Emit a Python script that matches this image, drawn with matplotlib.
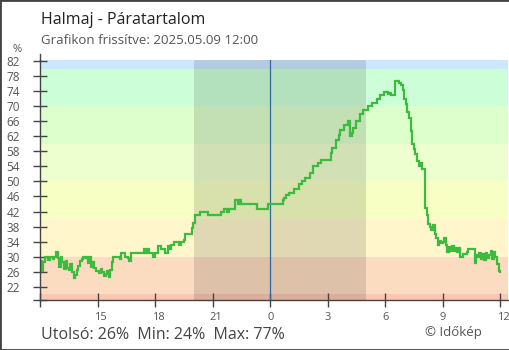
import numpy as np
import matplotlib
matplotlib.use("Agg")
import matplotlib.pyplot as plt
from matplotlib.patches import Rectangle
import matplotlib.transforms as mtransforms

plt.rcParams['font.family'] = ['Open Sans', 'DejaVu Sans']

# ---------------- data ----------------
title = "Halmaj - Páratartalom"
subtitle = "Grafikon frissítve: 2025.05.09 12:00"
footer = "Utolsó: 26%  Min: 24%  Max: 77%"
credit = "© Időkép"
unit_label = "%"

start_hour = 12          # 12:00 of previous day
step_minutes = 5
humidity_pct = [
    # 12:00
    28.8, 26.2, 28.5, 29.8, 30.0, 29.0, 30.0, 30.0, 29.4, 30.0, 31.2, 29.6,
    # 13:00
    27.2, 29.8, 28.5, 26.6, 28.8, 27.0, 26.5, 28.0, 25.8, 24.2, 25.2, 26.5,
    # 14:00
    27.5, 28.8, 29.5, 30.0, 29.6, 30.0, 28.2, 29.8, 27.2, 28.5, 27.0, 26.2,
    # 15:00
    26.2, 25.6, 26.8, 26.0, 24.8, 25.4, 26.2, 24.6, 26.4, 28.6, 30.0, 30.0,
    # 16:00
    30.0, 30.0, 29.4, 31.0, 31.0, 30.0, 30.0, 29.6, 28.8, 31.1, 31.1, 31.1,
    # 17:00
    31.1, 31.1, 31.1, 31.1, 31.1, 32.0, 31.1, 31.9, 31.1, 31.1, 31.1, 29.9,
    # 18:00
    31.1, 31.1, 32.8, 32.8, 32.0, 32.0, 31.1, 31.1, 32.8, 32.0, 33.1, 33.1,
    # 19:00
    34.0, 34.0, 34.0, 33.0, 34.0, 34.0, 34.5, 36.1, 36.1, 36.1, 36.1, 37.5,
    # 20:00
    39.0, 41.0, 41.0, 41.0, 41.8, 41.8, 41.8, 41.8, 41.8, 41.0, 41.0, 41.0,
    # 21:00
    41.0, 41.0, 41.0, 41.0, 41.0, 41.8, 41.8, 42.8, 42.8, 41.8, 42.8, 42.8,
    # 22:00
    42.8, 42.8, 45.0, 45.0, 44.1, 45.0, 44.1, 44.1, 44.1, 44.1, 44.1, 44.1,
    # 23:00
    44.1, 44.1, 44.1, 44.1, 42.8, 42.8, 42.8, 42.8, 42.8, 42.8, 42.8, 44.1,
    # 00:00
    44.1, 44.1, 44.1, 44.1, 44.1, 44.1, 44.1, 44.1, 45.0, 45.5, 46.3, 46.3,
    # 01:00
    47.0, 47.0, 47.0, 47.9, 47.9, 47.9, 49.2, 49.2, 50.1, 50.1, 50.8, 50.8,
    # 02:00
    50.8, 52.3, 52.3, 54.0, 54.0, 54.0, 54.9, 54.9, 55.8, 55.8, 55.8, 55.8,
    # 03:00
    55.8, 55.8, 57.6, 58.9, 58.9, 60.9, 60.9, 62.4, 63.8, 63.8, 64.9, 64.9,
    # 04:00
    64.9, 66.0, 62.0, 62.9, 64.2, 64.2, 66.0, 66.0, 67.9, 67.9, 68.9, 68.9,
    # 05:00
    68.9, 70.0, 70.0, 70.0, 70.9, 70.9, 70.9, 72.0, 72.0, 72.9, 72.9, 73.9,
    # 06:00
    73.9, 73.9, 73.3, 73.6, 72.9, 72.9, 76.8, 76.8, 76.8, 76.3, 75.6, 74.2,
    # 07:00
    72.0, 70.5, 68.5, 67.0, 63.5, 60.0, 58.6, 57.4, 55.4, 54.2, 55.0, 53.2,
    # 08:00
    53.2, 43.0, 41.0, 38.8, 38.0, 37.0, 38.5, 36.0, 35.0, 33.0, 34.2, 33.5,
    # 09:00
    33.8, 34.9, 33.0, 31.2, 32.5, 31.5, 32.8, 31.4, 32.2, 31.2, 32.4, 30.0,
    # 10:00
    29.8, 30.8, 30.8, 31.2, 32.0, 32.0, 32.0, 32.0, 28.4, 30.4, 29.8, 31.0,
    # 11:00
    29.4, 30.6, 29.0, 31.0, 29.6, 30.4, 31.6, 29.4, 31.2, 30.0, 28.0, 26.2,
    # 12:00
    26.0,
]

band_edges = [0, 20, 30, 40, 50, 60, 70, 80, 100]
band_colors = ['#fcc6b4', '#fcdcc0', '#fff6cc', '#f7ffc4',
               '#eeffcf', '#ddffcc', '#ccffd8', '#cce8ff']

x_ticks = [12, 15, 18, 21, 24, 27, 30, 33, 36]
x_tick_labels = ["", "15", "18", "21", "0", "3", "6", "9", "12"]
y_ticks = list(range(22, 83, 4))
night_start, night_end = 20.03, 29.0
midnight = 24
x_limits = (12.0, 36.41)
y_limits = (18.6, 82.3)

# ---------------- figure ----------------
W, H = 510, 350
fig = plt.figure(figsize=(W / 100, H / 100), dpi=100)
ax = fig.add_axes([40 / W, 50.5 / H, 468 / W, 239.5 / H])

t = start_hour + np.arange(len(humidity_pct)) * step_minutes / 60.0

for lo, hi, c in zip(band_edges[:-1], band_edges[1:], band_colors):
    ax.axhspan(lo, hi, color=c, lw=0, zorder=0)
ax.axvspan(night_start, night_end, color='black', alpha=0.12, lw=0, zorder=1)
ax.axvline(midnight, color='#2f6aa3', lw=0.9, zorder=2)
ax.plot(t, humidity_pct, drawstyle='steps-post', color='#3dbb3f', lw=1.6,
        zorder=3, solid_joinstyle='miter')

ax.set_xlim(*x_limits)
ax.set_ylim(*y_limits)

for s in ['top', 'right']:
    ax.spines[s].set_visible(False)
for s in ['left', 'bottom']:
    ax.spines[s].set_color('#444')
    ax.spines[s].set_linewidth(1)
    ax.spines[s].set_zorder(4)

ax.set_yticks(y_ticks + [y_limits[0]])
ax.set_yticklabels([str(v) for v in y_ticks] + [""])
ax.set_xticks(x_ticks)
ax.set_xticklabels([])
ax.tick_params(axis='both', direction='inout', length=10, width=1,
               color='#444', labelcolor='#555')
ax.tick_params(axis='y', labelsize=8.5, pad=9.4)
# midnight tick in the line colour
ax.get_xticklines()[2 * x_ticks.index(midnight)].set_color('#2f6aa3')

off = mtransforms.ScaledTranslation(-3 / 100, -20 / 100, fig.dpi_scale_trans)
for xv, lab in zip(x_ticks, x_tick_labels):
    ax.text(xv, 0, lab, transform=ax.get_xaxis_transform() + off,
            ha='left', va='baseline', fontsize=8, color='#555')

# y spine small extension above plot
fig.add_artist(plt.Line2D([40 / W, 40 / W], [1 - 60 / H, 1 - 54 / H],
                          transform=fig.transFigure, color='#444', lw=1))

fig.text(41 / W, 1 - 24.3 / H, title, fontsize=11.5, color='#222', va='baseline')
fig.text(41 / W, 1 - 44.5 / H, subtitle, fontsize=9.5, color='#555', va='baseline')
fig.text(17 / W, 1 - 50 / H, unit_label, fontsize=8, color='#555', ha='center', va='center')
fig.text(41 / W, 1 - 339 / H, footer, fontsize=11.5, color='#444', va='baseline')
fig.text(425 / W, 1 - 336 / H, credit, fontsize=9.5, color='#555', va='baseline')

fig.patches.append(Rectangle((0, 0), 1, 1, transform=fig.transFigure, fill=False,
                             edgecolor='#444', lw=2))

fig.savefig("out.png", dpi=100)
